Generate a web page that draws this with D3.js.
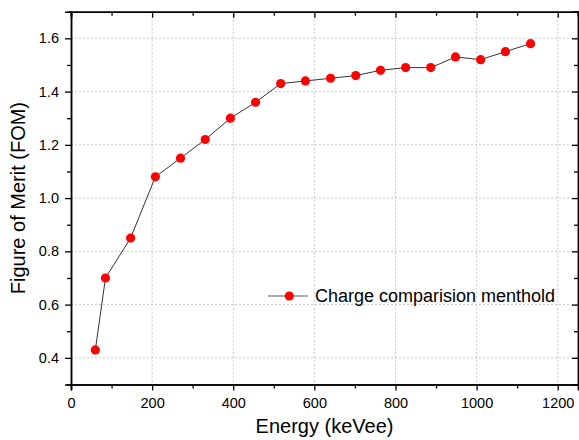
<!DOCTYPE html>
<html>
<head>
<meta charset="utf-8">
<script src="https://cdn.jsdelivr.net/npm/d3@7"></script>
<style>
  body { margin: 0; background: #fff; }
  text { font-family: "Liberation Sans", Arial, sans-serif; fill: #000; }
</style>
</head>
<body>
<svg id="chart" width="579" height="440"></svg>
<script>
// data
var energy = [60, 85, 147, 208, 270, 331, 393, 455, 517, 578, 640, 702, 763, 825, 887, 948, 1010, 1071, 1133];
var fom = [0.43, 0.70, 0.85, 1.08, 1.15, 1.22, 1.30, 1.36, 1.43, 1.44, 1.45, 1.46, 1.48, 1.49, 1.49, 1.53, 1.52, 1.55, 1.58];
var xTicks = [0, 200, 400, 600, 800, 1000, 1200];
var xMinor = [100, 300, 500, 700, 900, 1100];
var yTicks = [0.4, 0.6, 0.8, 1.0, 1.2, 1.4, 1.6];
var yMinor = [0.5, 0.7, 0.9, 1.1, 1.3, 1.5];
var seriesName = 'Charge comparision menthold';

var svg = d3.select('#chart');
var pLeft = 71, pRight = 578, pTop = 11.7, pBottom = 384.5;

var x = d3.scaleLinear().domain([0, 1250]).range([pLeft, pRight]);
var y = d3.scaleLinear().domain([0.3, 1.7]).range([pBottom, pTop]);

//grid
var grid = svg.append('g').attr('stroke', '#c8c8c8').attr('stroke-width', 1).attr('stroke-dasharray', '2,2');
grid.selectAll('line.gx').data(xTicks.slice(1)).enter().append('line')
  .attr('x1', function(d){return x(d)}).attr('x2', function(d){return x(d)})
  .attr('y1', pTop).attr('y2', pBottom);
grid.selectAll('line.gy').data(yTicks).enter().append('line')
  .attr('y1', function(d){return y(d)}).attr('y2', function(d){return y(d)})
  .attr('x1', pLeft).attr('x2', pRight);

//axes
function fmtY(d){ return d3.format('.1f')(d); }

svg.append('g').attr('transform', 'translate(0,' + pBottom + ')')
  .call(d3.axisBottom(x).tickValues(xTicks).tickSize(6).tickPadding(7).tickFormat(d3.format('d')));
svg.append('g').attr('transform', 'translate(0,' + pBottom + ')')
  .call(d3.axisBottom(x).tickValues(xMinor).tickSize(4).tickFormat(''));

svg.append('g').attr('transform', 'translate(' + pLeft + ',0)')
  .call(d3.axisLeft(y).tickValues(yTicks).tickSize(6).tickPadding(6).tickFormat(fmtY));
svg.append('g').attr('transform', 'translate(' + pLeft + ',0)')
  .call(d3.axisLeft(y).tickValues(yMinor).tickSize(4).tickFormat(''));

// mirrored axes, ticks inside
svg.append('g').attr('transform', 'translate(0,' + pTop + ')')
  .call(d3.axisTop(x).tickValues(xTicks).tickSize(-6).tickFormat(''));
svg.append('g').attr('transform', 'translate(0,' + pTop + ')')
  .call(d3.axisTop(x).tickValues(xMinor).tickSize(-4).tickFormat(''));
svg.append('g').attr('transform', 'translate(' + pRight + ',0)')
  .call(d3.axisRight(y).tickValues(yTicks).tickSize(-6).tickFormat(''));
svg.append('g').attr('transform', 'translate(' + pRight + ',0)')
  .call(d3.axisRight(y).tickValues(yMinor).tickSize(-4).tickFormat(''));

svg.selectAll('.domain').attr('stroke', '#000').attr('stroke-width', 1.5);
svg.selectAll('.tick line').attr('stroke', '#000').attr('stroke-width', 1.3);
svg.selectAll('.tick text').style('font-size', '14.5px').style('font-family', '"Liberation Sans", Arial, sans-serif');

//axis titles
svg.append('text').attr('x', (pLeft + pRight) / 2).attr('y', 433)
  .attr('text-anchor', 'middle').style('font-size', '20px').text('Energy (keVee)');
svg.append('text').attr('transform', 'translate(25,' + ((pTop + pBottom) / 2) + ') rotate(-90)')
  .attr('text-anchor', 'middle').style('font-size', '20px').text('Figure of Merit (FOM)');

//series
var pts = energy.map(function(d, i){ return {e: d, f: fom[i]}; });
var line = d3.line().x(function(d){return x(d.e)}).y(function(d){return y(d.f)});
svg.append('path').datum(pts).attr('d', line)
  .attr('fill', 'none').attr('stroke', '#333').attr('stroke-width', 1);
svg.selectAll('circle.pt').data(pts).enter().append('circle')
  .attr('class', 'pt')
  .attr('cx', function(d){return x(d.e)})
  .attr('cy', function(d){return y(d.f)})
  .attr('r', 4.6)
  .attr('fill', '#ff0000');

//legend
var lg = svg.append('g').attr('transform', 'translate(268,296)');
lg.append('line').attr('x1', 0).attr('x2', 40).attr('y1', 0).attr('y2', 0)
  .attr('stroke', '#555').attr('stroke-width', 1.2);
lg.append('circle').attr('cx', 21.3).attr('cy', 0).attr('r', 4.6).attr('fill', '#ff0000');
lg.append('text').attr('x', 47).attr('y', 5.8).style('font-size', '18px').text(seriesName);
</script>
</body>
</html>
